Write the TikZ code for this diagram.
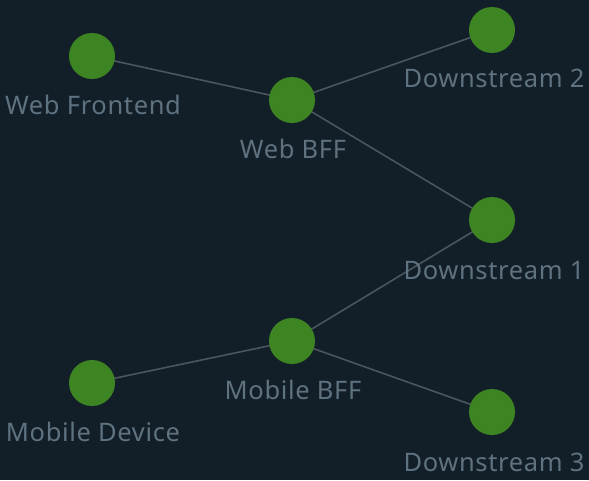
\documentclass[tikz,border=0pt]{standalone}
\usepackage{fontspec}
\setmainfont{Noto Sans}[LetterSpace=2.5]
\usetikzlibrary{backgrounds}
\definecolor{bgc}{HTML}{131F28}
\definecolor{dotc}{HTML}{3D8523}
\definecolor{txtc}{HTML}{5F7280}
\definecolor{edgec}{HTML}{4A5560}
\begin{document}
\begin{tikzpicture}[x=1pt,y=-1pt,
  dot/.style={circle,fill=dotc,minimum size=46pt,inner sep=0pt},
  lbl/.style={text=txtc,font=\fontsize{25.5}{28}\selectfont,anchor=base,inner sep=0pt},
  link/.style={draw=edgec,line width=1.6pt}]
\useasboundingbox (0,0) rectangle (589,480);
\node[dot] (wf) at (92,56) {};
\node[dot] (wb) at (292,100) {};
\node[dot] (d2) at (492,30) {};
\node[dot] (d1) at (492,220) {};
\node[dot] (mb) at (292,341) {};
\node[dot] (md) at (92,383) {};
\node[dot] (d3) at (492,412) {};
\node[lbl] (lwf) at (93,114.5) {Web Frontend};
\node[lbl] (lwb) at (293,158.5) {Web BFF};
\node[lbl] (ld2) at (494,87.5) {Downstream 2};
\node[lbl] (ld1) at (494,279) {Downstream 1};
\node[lbl] (lmb) at (293,399.5) {Mobile BFF};
\node[lbl] (lmd) at (93,441.5) {Mobile Device};
\node[lbl] (ld3) at (494,471) {Downstream 3};
\begin{scope}[on background layer]
\fill[bgc] (0,0) rectangle (589,480);
\draw[link] (wf.center) -- (wb.center);
\draw[link] (wb.center) -- (d2.center);
\draw[link] (wb.center) -- (d1.center);
\draw[link] (mb.center) -- (d1.center);
\draw[link] (md.center) -- (mb.center);
\draw[link] (mb.center) -- (d3.center);
\end{scope}
\end{tikzpicture}
\end{document}
